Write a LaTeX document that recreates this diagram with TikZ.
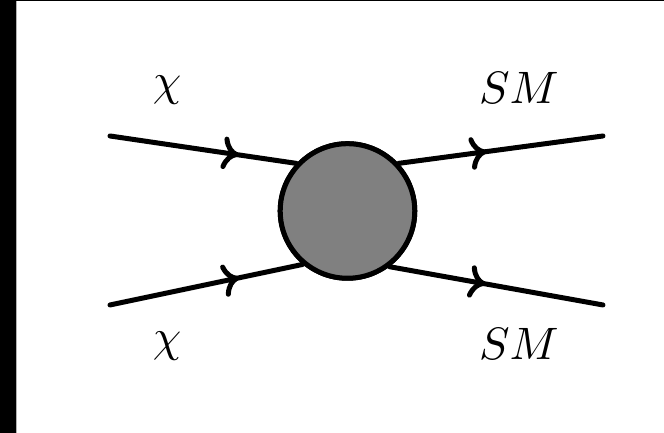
\documentclass[tikz,border=0pt]{standalone}
\usetikzlibrary{arrows.meta,decorations.markings}
\begin{document}
\begin{tikzpicture}[x=0.22pt,y=-0.22pt,
  leg/.style={line width=1.1pt, line cap=round,
    postaction={decorate},
    decoration={markings, mark=at position #1 with {\arrow{Computer Modern Rightarrow[length=3.6pt,width=7.2pt,line width=1.1pt]}}}},
  blobstyle/.style={circle, draw=black, fill=gray, line width=1.1pt, minimum size=29.6pt, inner sep=0pt},
  lbl/.style={inner sep=0pt}]
\useasboundingbox (0,0) rectangle (664,433);
\fill[black] (0,0) rectangle (16,433);
\fill[black] (0,0) rectangle (664,1.5);
\draw[gray!60, line width=0.2pt] (16.5,1.5) -- (16.5,433);
\node[blobstyle] (blob) at (347.5,211) {};
\coordinate (a1) at (110,136);
\coordinate (a2) at (110,305);
\coordinate (b1) at (603,136);
\coordinate (b2) at (603,305);
\draw[leg=0.69] (a1) -- (blob.137);
\draw[leg=0.67] (a2) -- (blob.230);
\draw[leg=0.43] (blob.43) -- (b1);
\draw[leg=0.45] (blob.307) -- (b2);
\node[blobstyle] at (blob) {};
\node[lbl] (l1) at (167,90) {$\chi$};
\node[lbl] (l2) at (167,346) {$\chi$};
\node[lbl] (l3) at (519,88) {$SM$};
\node[lbl] (l4) at (519,344) {$SM$};
\end{tikzpicture}
\end{document}
